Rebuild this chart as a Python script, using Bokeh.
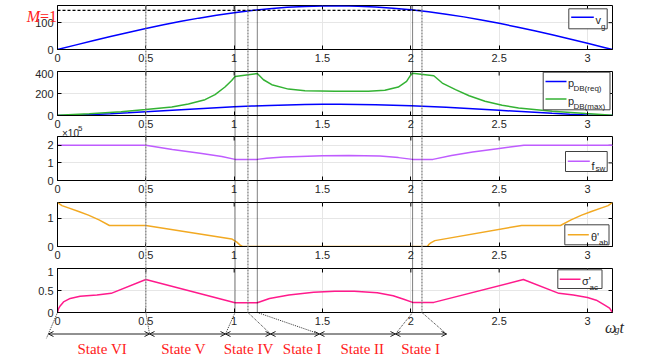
import math
from bokeh.plotting import figure
from bokeh.models import (Range1d, FixedTicker, NumeralTickFormatter, LinearAxis,
                          Label, Arrow, OpenHead)
from bokeh.layouts import column
from bokeh.core.properties import value
from bokeh.embed import file_html
from bokeh.resources import INLINE

PI = math.pi

# ---------------- data ----------------
x_grid = [0.0, 0.1, 0.2, 0.3, 0.4, 0.5, 0.6, 0.7, 0.8, 0.9, 1.0, 1.1, 1.2, 1.3, 1.4, 1.5,
          1.6, 1.7, 1.8, 1.9, 2.0, 2.1, 2.2, 2.3, 2.4, 2.5, 2.6, 2.7, 2.8, 2.9, 3.0, 3.1, PI]
vg = [0, 16.3, 32.4, 48.2, 63.5, 78.1, 92.0, 105.0, 116.9, 127.7, 137.2, 145.3, 151.9, 157.1,
      160.6, 162.6, 162.9, 161.6, 158.7, 154.2, 148.2, 140.7, 131.8, 121.6, 110.1, 97.6, 84.0,
      69.7, 54.6, 39.0, 23.0, 6.8, 0]
p_db_req = [0, 3.2, 9.0, 16.4, 24.8, 33.9, 43.3, 52.7, 62.0, 70.7, 78.7, 85.8, 91.8, 96.5,
            99.8, 101.6, 101.9, 100.7, 98.0, 93.9, 88.4, 81.8, 74.2, 65.7, 56.6, 47.2, 37.8,
            28.5, 19.8, 11.9, 5.4, 0.9, 0]

x_pmax = [0, 0.18, 0.36, 0.5, 0.647, 0.741, 0.835, 0.892, 0.948, 0.986, 1.005, 1.131, 1.166,
          1.213, 1.307, 1.401, 1.571, 1.76, 1.853, 1.929, 1.976, 1.998, 2.01, 2.13, 2.178,
          2.253, 2.33, 2.42, 2.517, 2.61, 2.8, 2.99, PI]
p_db_max = [3, 15, 33, 54, 78, 105, 144, 190, 259, 319, 355, 382, 325, 280, 240, 225, 220,
            220, 229, 259, 310, 365, 385, 361, 295, 235, 180, 129, 93, 69, 39, 18, 3]

x_fsw = [0, 0.5, 0.65, 0.807, 0.93, 1.005, 1.131, 1.184, 1.28, 1.373, 1.5, 1.65, 1.825, 1.93,
         2.01, 2.125, 2.23, 2.35, 2.49, 2.64, PI]
fsw_1e5 = [2, 2, 1.76, 1.55, 1.36, 1.2, 1.2, 1.27, 1.33, 1.37, 1.41, 1.42, 1.39, 1.3, 1.2, 1.2,
           1.42, 1.62, 1.81, 2, 2]

x_theta = [0, 0.025, 0.062, 0.12, 0.175, 0.235, 0.294, 0.5, 0.986, 1.015, 1.034, 1.047, 2.094,
           2.103, 2.113, 2.136, 2.627, 2.847, 2.907, 2.967, 3.022, 3.08, 3.117, PI]
theta_ab = [1.571, 1.46, 1.38, 1.25, 1.12, 0.95, 0.75, 0.75, 0.27, 0.155, 0.05, 0, 0, 0.08,
            0.13, 0.21, 0.75, 0.75, 0.95, 1.12, 1.25, 1.38, 1.46, 1.571]

x_sigma = [0, 0.006, 0.015, 0.034, 0.072, 0.128, 0.223, 0.304, 0.5, 1.005, 1.131, 1.2, 1.31,
           1.45, 1.57, 1.68, 1.81, 1.9, 1.96, 2.01, 2.13, 2.637, 2.838, 2.92, 3.0, 3.05, 3.1,
           3.125, PI]
sigma_ac = [0, 0.09, 0.15, 0.24, 0.32, 0.37, 0.40, 0.435, 0.75, 0.22, 0.22, 0.32, 0.40, 0.46,
            0.485, 0.485, 0.45, 0.38, 0.30, 0.23, 0.23, 0.75, 0.435, 0.40, 0.34, 0.28, 0.16,
            0.10, 0]

x_ticks = [0, 0.5, 1, 1.5, 2, 2.5, 3]
m1_level = 145.5
m1_end = 2.063
boundary_x = [0.5, 1.005, 1.078, 1.131, 2.01, 2.063]
boundary_grey = [True, False, True, False, False, True]
connector_from = [0, 0.5, 1.005, 1.078, 1.131, 2.01, 2.063]
state_edges = [-0.051, 0.521, 0.951, 1.206, 1.483, 1.913, 2.202]
state_names = ["State VI", "State V", "State IV", "State I", "State II", "State I"]
state_label_x = [0.253, 0.713, 1.081, 1.385, 1.725, 2.055]

# ---------------- styling helpers ----------------
FRAME_L, FRAME_W, FRAME_H = 57, 555, 44
SANS = "Liberation Sans"
SERIF = "Liberation Serif"
TXT = "#262626"
RED = "#ff2020"


def xd(px):
    return (px - FRAME_L) / FRAME_W * PI


def make_panel(fig_top, fig_bot, frame_top, ylo, yhi, yticks):
    frame_bot = frame_top + FRAME_H
    p = figure(width=660, height=fig_bot - fig_top, x_range=Range1d(0, PI),
               y_range=Range1d(ylo, yhi), output_backend="svg", toolbar_location=None,
               min_border_left=FRAME_L, min_border_right=660 - FRAME_L - FRAME_W,
               min_border_top=frame_top - fig_top, min_border_bottom=fig_bot - frame_bot,
               outline_line_color="black", outline_line_width=1,
               x_axis_location=None, y_axis_location=None,
               background_fill_color="white", border_fill_color="white")

    def yd(py):
        return ylo + (frame_bot - py) / FRAME_H * (yhi - ylo)

    xt = FixedTicker(ticks=x_ticks)
    yt = FixedTicker(ticks=yticks)
    for loc, ticker in (("below", xt), ("left", yt)):
        ax = LinearAxis(ticker=ticker, formatter=NumeralTickFormatter(format="0.[0]"),
                        major_tick_in=4, major_tick_out=0, minor_tick_line_color=None,
                        axis_line_color="black", major_tick_line_color="black",
                        major_label_text_font=SANS, major_label_text_font_size="11px",
                        major_label_text_color=TXT, major_label_standoff=4)
        p.add_layout(ax, loc)
    p.xgrid.ticker = xt
    p.ygrid.ticker = yt
    p.xgrid.grid_line_color = "#e6e6e6"
    p.ygrid.grid_line_color = "#e6e6e6"
    # mirrored inward ticks on the top and right edges
    dy = 4 / FRAME_H * (yhi - ylo)
    dx = 4 / FRAME_W * PI
    p.segment(x0=x_ticks, x1=x_ticks, y0=[yhi] * len(x_ticks), y1=[yhi - dy] * len(x_ticks),
              line_color="black", line_width=1)
    p.segment(x0=[PI] * len(yticks), x1=[PI - dx] * len(yticks), y0=yticks, y1=yticks,
              line_color="black", line_width=1)
    return p, yd


def add_legend(p, yd, box, items):
    l, r, t, b = box
    p.quad(left=[xd(l)], right=[xd(r)], top=[yd(t)], bottom=[yd(b)],
           fill_color="white", line_color="#404040", line_width=1)
    for (x0, x1, ly, color, main, mx, my, sub, sx, sy) in items:
        p.line([xd(x0), xd(x1)], [yd(ly), yd(ly)], line_color=color, line_width=1.5)
        p.text(x=[xd(mx)], y=[yd(my)], text=[main], text_font=value(SANS),
               text_font_size="11px", text_color=TXT, text_align="left",
               text_baseline="alphabetic")
        p.text(x=[xd(sx)], y=[yd(sy)], text=[sub], text_font=value(SANS),
               text_font_size="8px", text_color=TXT, text_align="left",
               text_baseline="alphabetic")


BLUE = "#0000ff"
GREEN = "#33b233"
PURPLE = "#bf5cff"
ORANGE = "#f2a922"
MAGENTA = "#ff1a8c"

# ---- panel 1 : v_g ----
p1, yd1 = make_panel(0, 69, 5, 0, 164, [0, 100])
p1.line(x_grid, vg, line_color=BLUE, line_width=1.5)
p1.line([0, m1_end], [m1_level, m1_level], line_color="black", line_width=1.3, line_dash="3 2")
add_legend(p1, yd1, (568.3, 606.7, 8.3, 28.3),
           [(570.7, 593.3, 16.7, BLUE, "v", 595, 19, "g", 600.5, 25.5)])

# ---- panel 2 : p_DB ----
p2, yd2 = make_panel(69, 135, 71, 0, 400, [0, 200, 400])
p2.line(x_grid, p_db_req, line_color=BLUE, line_width=1.5)
p2.line(x_pmax, p_db_max, line_color=GREEN, line_width=1.5)
add_legend(p2, yd2, (542.7, 609.5, 71.7, 109.3),
           [(545, 566, 81, BLUE, "p", 567.5, 82.7, "DB(req)", 573, 88),
            (545, 566, 98.5, GREEN, "p", 567.5, 100, "DB(max)", 573, 105.5)])

# ---- panel 3 : f_sw ----
p3, yd3 = make_panel(135, 201, 136, 0, 2.5, [0, 1, 2])
p3.line(x_fsw, fsw_1e5, line_color=PURPLE, line_width=1.5)
add_legend(p3, yd3, (565, 606.7, 151, 171),
           [(567.3, 589.3, 160.7, PURPLE, "f", 591, 165, "sw", 595, 168.3)])

# ---- panel 4 : theta'_ab ----
p4, yd4 = make_panel(201, 267, 202, 0, PI / 2, [0, 1])
p4.line(x_theta, theta_ab, line_color=ORANGE, line_width=1.5)
add_legend(p4, yd4, (564.3, 608.5, 224.3, 244.3),
           [(567.3, 588.3, 234.3, ORANGE, "θ'", 590.5, 236.7, "ab", 598.5, 241.7)])

# ---- panel 5 : sigma'_ac ----
p5, yd5 = make_panel(267, 355, 268, 0, 1, [0, 0.5, 1])
p5.line(x_sigma, sigma_ac, line_color=MAGENTA, line_width=1.5)
add_legend(p5, yd5, (557.3, 601.5, 269.3, 288),
           [(559.3, 580, 278.7, MAGENTA, "σ'", 581.5, 280.3, "ac", 589, 287)])

# ---- transparent overlay spanning the whole page (x in data units, y in page pixels) ----
ov = figure(width=660, height=355, x_range=Range1d(xd(0), xd(660)), y_range=Range1d(355, 0),
            output_backend="svg", toolbar_location=None, title=None,
            min_border=0, min_border_left=0, min_border_right=0, min_border_top=0,
            min_border_bottom=0, x_axis_location=None, y_axis_location=None,
            outline_line_color=None, background_fill_color=None, border_fill_color=None,
            styles={"position": "absolute", "left": "0px", "top": "0px"})
try:
    ov.frame_align = False          # keep the overlay frame = whole canvas
except Exception:
    ov.x_range = Range1d(0, PI)     # frame gets aligned with the panels' frames
ov.grid.visible = False

for bx, grey in zip(boundary_x, boundary_grey):
    ov.segment(x0=[bx], x1=[bx], y0=[5], y1=[312],
               line_color="#808080" if grey else "black",
               line_width=1.3 if grey else 1, line_dash="2 1" if grey else "1 1")

arrow_y = 333.5
for i, xf in enumerate(connector_from):
    end_y = 338 if i == 0 else arrow_y
    end_x = state_edges[i] - (0.012 if i == 0 else 0)
    ov.segment(x0=[xf], x1=[end_x], y0=[312], y1=[end_y], line_color="black",
               line_width=0.8, line_dash="1 1")
for i in range(len(state_edges) - 1):
    ov.add_layout(Arrow(x_start=state_edges[i], y_start=arrow_y, x_end=state_edges[i + 1],
                        y_end=arrow_y, line_color="#222222", line_width=1,
                        start=OpenHead(size=5, line_width=1, line_color="#222222"),
                        end=OpenHead(size=5, line_width=1, line_color="#222222")))
for name, lx in zip(state_names, state_label_x):
    ov.add_layout(Label(x=lx, y=348.5, text=name, text_font=SERIF, text_font_size="15px",
                        text_color=RED, text_align="center", text_baseline="alphabetic"))

ov.add_layout(Label(x=xd(39.5), y=16, text="M", text_font=SERIF, text_font_size="16px",
                    text_font_style="italic", text_color=RED, text_align="right",
                    text_baseline="alphabetic"))
ov.add_layout(Label(x=xd(39.5), y=16, text="=1", text_font=SERIF, text_font_size="16px",
                    text_color=RED, text_align="left", text_baseline="alphabetic"))
ov.add_layout(Label(x=xd(61.5), y=133.3, text="×10", text_font=SANS, text_font_size="10px",
                    text_color=TXT, text_align="left", text_baseline="alphabetic"))
ov.add_layout(Label(x=xd(77.5), y=127.8, text="5", text_font=SANS, text_font_size="8px",
                    text_color=TXT, text_align="left", text_baseline="alphabetic"))
ov.add_layout(Label(x=xd(604.5), y=326.5, text="ω", text_font=SERIF, text_font_size="16px",
                    text_font_style="italic", text_color=TXT, text_align="left",
                    text_baseline="alphabetic"))
ov.add_layout(Label(x=xd(614), y=328.5, text="g", text_font=SERIF, text_font_size="10px",
                    text_font_style="italic", text_color=TXT, text_align="left",
                    text_baseline="alphabetic"))
ov.add_layout(Label(x=xd(619), y=326.5, text="t", text_font=SERIF, text_font_size="16px",
                    text_font_style="italic", text_color=TXT, text_align="left",
                    text_baseline="alphabetic"))

layout = column(p1, p2, p3, p4, p5, ov, spacing=0, styles={"position": "relative"})
open("out.html", "w").write(file_html(layout, INLINE))
